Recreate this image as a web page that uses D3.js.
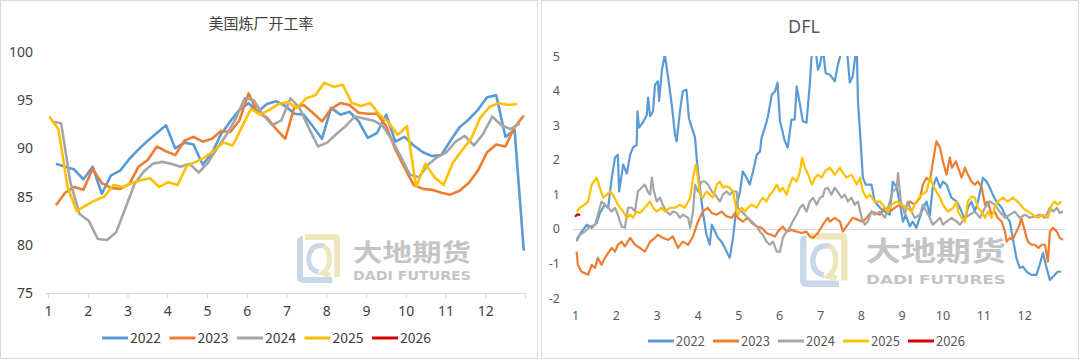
<!DOCTYPE html>
<html><head><meta charset="utf-8">
<script src="https://cdn.jsdelivr.net/npm/d3@7"></script>
<style>
body{margin:0;background:#fff;}
svg{display:block;font-family:"Noto Sans CJK SC","Noto Sans",sans-serif;}
</style>
</head><body>
<svg id="c" width="1080" height="360"></svg>
<script>
// ---------- shared ----------
const years = ["2022","2023","2024","2025","2026"];
const colors = ["#5b9bd5","#ed7d31","#a5a5a5","#ffc000","#d40000"];
const monthLabels = [1,2,3,4,5,6,7,8,9,10,11,12];

// ---------- left: 美国炼厂开工率 (weekly, %) ----------
const utilTitle = "美国炼厂开工率";
const utilTicks = [75,80,85,90,95,100];
const util2022 = [88.4,88.1,87.8,86.8,88.1,85.3,87.2,87.7,88.9,89.9,90.8,91.6,92.4,90.0,90.6,90.4,88.3,89.5,91.5,92.8,94.0,94.7,93.8,94.6,94.9,94.4,93.6,93.5,92.3,91.0,94.2,93.5,93.8,92.8,91.1,91.6,93.5,90.7,91.2,90.3,89.6,89.2,89.3,90.8,92.2,93.0,94.0,95.3,95.5,91.2,91.9,79.4];
const util2023 = [84.1,85.4,86.0,85.7,87.9,86.4,85.9,85.8,86.3,88.1,88.8,90.2,89.7,89.3,90.8,91.2,90.7,91.0,91.8,91.7,92.9,95.7,93.7,93.2,92.0,91.0,94.3,94.5,93.7,92.8,94.1,94.7,94.5,93.7,93.6,93.6,92.3,89.9,88.0,86.2,85.8,85.7,85.4,85.2,85.6,86.4,87.7,89.6,90.4,90.2,92.2,93.4];
const util2024 = [92.8,92.6,86.5,83.2,82.5,80.6,80.5,81.3,83.8,86.3,87.6,88.4,88.6,88.4,88.1,88.4,87.5,88.5,90.0,91.4,93.0,95.2,95.0,93.5,92.4,92.9,95.2,94.2,92.1,90.2,90.6,91.5,92.3,93.3,93.1,92.9,92.4,91.0,89.2,87.3,87.0,88.3,89.1,89.6,90.7,91.3,90.3,91.5,93.3,92.4,92.0,92.6];
const util2025 = [93.3,92.0,86.0,83.5,84.1,84.6,85.0,86.2,86.0,86.4,86.7,86.9,86.0,86.5,86.2,88.2,88.6,89.1,89.8,90.6,90.3,92.2,94.1,93.5,94.0,94.6,94.8,94.2,95.2,95.5,96.8,96.4,96.6,94.7,94.4,94.7,93.5,92.7,91.4,92.3,86.0,88.4,87.0,86.2,88.5,89.8,91.0,93.2,94.3,94.7,94.5,94.6];
const util2026 = [];
const utilStartMonth = [1.2,1.2,1.1,1.03,1.0]; // month position of first weekly report

// ---------- right: DFL (daily) [month position, value] ----------
const dflTitle = "DFL";
const dflTicks = [-2,-1,0,1,2,3,4,5];
const dfl2022 = [[1.04,-0.32],[1.16,-0.08],[1.29,0.12],[1.41,0.03],[1.53,0.17],[1.61,0.46],[1.73,0.70],[1.81,0.60],[1.90,1.47],[1.98,2.06],[2.05,2.14],[2.08,1.08],[2.18,1.86],[2.27,1.60],[2.35,2.14],[2.42,2.35],[2.51,2.43],[2.53,3.40],[2.57,2.93],[2.66,3.07],[2.76,3.30],[2.79,3.80],[2.84,3.26],[2.91,3.40],[2.96,4.17],[3.03,4.27],[3.06,3.70],[3.13,4.60],[3.20,5.04],[3.28,4.38],[3.37,3.59],[3.45,2.72],[3.49,2.53],[3.57,3.40],[3.64,3.98],[3.73,4.03],[3.79,3.20],[3.86,2.93],[3.94,2.64],[3.99,1.90],[4.06,1.19],[4.13,0.49],[4.22,-0.17],[4.30,-0.46],[4.35,0.12],[4.43,-0.08],[4.50,-0.26],[4.59,-0.37],[4.67,-0.55],[4.75,-0.75],[4.79,-0.84],[4.87,-0.26],[4.96,0.70],[5.04,1.08],[5.11,1.66],[5.20,1.48],[5.28,1.28],[5.36,1.66],[5.45,2.14],[5.53,2.24],[5.57,2.64],[5.65,2.93],[5.72,3.22],[5.82,3.88],[5.90,3.98],[5.96,4.23],[6.02,3.11],[6.14,2.53],[6.21,2.35],[6.30,3.16],[6.38,3.16],[6.43,4.12],[6.51,3.59],[6.58,3.11],[6.67,3.07],[6.75,4.17],[6.79,4.95],[6.88,5.30],[6.95,4.60],[7.00,4.75],[7.07,5.20],[7.14,4.50],[7.24,4.46],[7.36,4.27],[7.44,4.75],[7.56,5.30],[7.65,5.30],[7.73,4.23],[7.80,4.41],[7.90,5.30],[7.93,3.69],[8.00,2.43],[8.05,1.48],[8.12,1.28],[8.26,1.28],[8.34,0.79],[8.47,0.61],[8.59,0.50],[8.71,0.41],[8.78,1.37],[8.88,1.19],[8.96,0.70],[9.03,0.21],[9.10,0.40],[9.20,0.07],[9.27,0.21],[9.36,0.03],[9.49,0.50],[9.61,0.79],[9.69,0.40],[9.76,1.19],[9.85,1.48],[9.94,1.19],[10.01,1.37],[10.10,1.28],[10.22,0.90],[10.35,0.79],[10.47,0.50],[10.55,0.26],[10.62,0.61],[10.71,0.79],[10.79,0.50],[10.87,0.79],[10.99,1.48],[11.08,1.37],[11.16,1.19],[11.23,0.99],[11.32,0.79],[11.45,0.61],[11.53,0.41],[11.65,0.21],[11.72,-0.26],[11.81,-0.84],[11.89,-1.13],[11.97,-1.09],[12.06,-1.24],[12.18,-1.33],[12.30,-1.33],[12.38,-1.04],[12.46,-0.70],[12.55,-1.13],[12.63,-1.48],[12.75,-1.33],[12.82,-1.24],[12.91,-1.24]];
const dfl2023 = [[1.04,-0.66],[1.07,-1.04],[1.16,-1.24],[1.32,-1.33],[1.41,-1.04],[1.49,-1.13],[1.56,-0.84],[1.65,-1.04],[1.73,-0.84],[1.90,-0.55],[1.98,-0.66],[2.05,-0.46],[2.14,-0.37],[2.22,-0.51],[2.35,-0.26],[2.47,-0.46],[2.59,-0.55],[2.71,-0.66],[2.84,-0.37],[2.96,-0.26],[3.03,-0.17],[3.15,-0.26],[3.28,-0.32],[3.40,-0.22],[3.52,-0.55],[3.64,-0.37],[3.77,-0.46],[3.89,-0.22],[4.01,0.20],[4.13,0.50],[4.25,0.61],[4.35,0.46],[4.47,0.41],[4.59,0.50],[4.71,0.36],[4.84,0.32],[4.92,0.46],[4.99,0.32],[5.11,0.21],[5.23,0.32],[5.33,0.17],[5.45,0.07],[5.57,0.03],[5.69,-0.12],[5.90,-0.22],[5.97,-0.08],[6.09,0.07],[6.18,-0.08],[6.30,-0.03],[6.43,-0.08],[6.55,-0.12],[6.67,-0.08],[6.75,-0.22],[6.83,-0.26],[6.95,-0.12],[7.07,0.12],[7.19,0.32],[7.24,0.21],[7.36,0.32],[7.49,0.21],[7.56,-0.08],[7.68,0.12],[7.80,0.32],[7.93,0.26],[8.05,0.21],[8.17,0.36],[8.26,0.50],[8.47,0.41],[8.59,0.61],[8.71,0.50],[8.83,0.61],[8.96,0.70],[9.08,0.61],[9.20,0.79],[9.32,0.70],[9.45,0.90],[9.52,1.28],[9.61,1.48],[9.69,1.37],[9.76,1.90],[9.85,2.53],[9.94,2.35],[10.01,1.95],[10.10,1.57],[10.18,2.06],[10.23,1.77],[10.33,1.95],[10.38,1.77],[10.47,1.48],[10.55,1.77],[10.62,1.57],[10.71,1.37],[10.79,1.28],[10.87,1.37],[10.96,1.19],[11.04,0.70],[11.11,0.79],[11.20,0.41],[11.28,0.50],[11.35,0.32],[11.45,0.21],[11.53,-0.08],[11.57,-0.37],[11.65,-0.26],[11.72,-0.32],[11.81,-0.08],[11.89,0.12],[11.93,0.32],[12.02,-0.08],[12.09,-0.37],[12.18,-0.46],[12.26,-0.46],[12.35,-0.55],[12.43,-0.46],[12.51,-0.46],[12.58,-0.95],[12.63,-0.08],[12.71,0.03],[12.80,-0.08],[12.87,-0.26],[12.95,-0.32]];
const dfl2024 = [[1.04,-0.37],[1.12,-0.17],[1.24,-0.08],[1.37,0.07],[1.49,0.12],[1.56,0.41],[1.65,0.79],[1.73,0.70],[1.81,0.61],[1.90,0.50],[1.98,0.61],[2.05,0.41],[2.14,0.07],[2.22,0.03],[2.30,0.61],[2.39,0.61],[2.47,0.50],[2.54,1.08],[2.63,1.19],[2.71,1.28],[2.78,1.08],[2.84,0.99],[2.88,1.48],[2.93,1.10],[3.00,0.79],[3.08,0.90],[3.15,0.70],[3.24,0.50],[3.33,0.41],[3.40,0.50],[3.49,0.46],[3.57,0.32],[3.64,0.41],[3.77,0.32],[3.82,0.03],[3.89,0.50],[3.94,1.28],[4.01,1.08],[4.10,1.37],[4.18,1.37],[4.26,1.28],[4.35,1.08],[4.43,0.99],[4.55,0.79],[4.62,0.99],[4.71,1.08],[4.79,0.99],[4.87,1.08],[4.96,1.08],[4.99,0.61],[5.08,0.50],[5.16,0.41],[5.23,0.32],[5.33,0.21],[5.45,0.07],[5.53,-0.08],[5.60,-0.17],[5.69,-0.37],[5.77,-0.46],[5.85,-0.37],[5.94,-0.66],[6.02,-0.66],[6.09,-0.26],[6.18,-0.08],[6.26,0.03],[6.33,0.21],[6.43,0.41],[6.51,0.61],[6.58,0.70],[6.67,0.50],[6.75,0.79],[6.83,0.90],[6.92,0.70],[7.00,0.90],[7.07,0.94],[7.12,1.15],[7.19,1.19],[7.28,0.99],[7.36,1.19],[7.53,0.90],[7.61,0.99],[7.68,0.79],[7.77,0.90],[7.85,0.70],[7.93,0.79],[8.02,0.32],[8.10,0.12],[8.17,0.21],[8.26,0.50],[8.34,0.41],[8.47,0.50],[8.59,0.32],[8.71,0.79],[8.78,1.08],[8.88,1.19],[8.91,1.62],[8.98,0.79],[9.08,0.41],[9.15,0.79],[9.24,0.50],[9.32,0.32],[9.45,0.41],[9.52,0.70],[9.61,0.50],[9.69,0.32],[9.76,0.12],[9.85,0.21],[9.94,0.32],[10.01,0.12],[10.10,0.21],[10.22,0.32],[10.35,0.21],[10.43,0.12],[10.55,0.32],[10.67,0.41],[10.79,0.50],[10.92,0.32],[11.04,0.61],[11.16,0.79],[11.28,0.70],[11.40,0.50],[11.53,0.32],[11.65,0.41],[11.77,0.50],[11.89,0.32],[12.02,0.41],[12.14,0.32],[12.26,0.36],[12.38,0.41],[12.51,0.32],[12.63,0.61],[12.71,0.50],[12.80,0.61],[12.87,0.46],[12.95,0.50]];
const dfl2025 = [[1.04,0.50],[1.12,0.61],[1.24,0.70],[1.32,0.79],[1.41,1.28],[1.53,1.48],[1.61,1.19],[1.69,0.90],[1.78,0.99],[1.86,1.08],[1.93,0.99],[2.05,0.70],[2.18,0.50],[2.27,0.32],[2.35,0.41],[2.42,0.32],[2.51,0.50],[2.59,0.46],[2.71,0.61],[2.84,0.79],[2.91,0.61],[3.00,0.50],[3.12,0.61],[3.20,0.50],[3.33,0.61],[3.45,0.61],[3.57,0.70],[3.69,0.61],[3.82,0.90],[3.89,1.48],[3.96,1.86],[4.01,1.48],[4.06,0.99],[4.13,0.90],[4.22,1.08],[4.30,0.99],[4.38,0.90],[4.47,1.28],[4.55,1.37],[4.62,1.19],[4.71,1.23],[4.79,1.19],[4.87,1.08],[4.96,0.50],[4.99,0.41],[5.08,0.61],[5.16,0.50],[5.23,0.61],[5.33,0.70],[5.45,0.61],[5.53,0.79],[5.60,0.90],[5.69,0.79],[5.77,0.99],[5.85,1.08],[5.94,1.28],[6.02,1.08],[6.09,1.19],[6.18,0.99],[6.26,1.28],[6.33,1.48],[6.43,1.37],[6.51,1.66],[6.56,2.06],[6.63,1.77],[6.71,1.57],[6.80,1.28],[6.88,1.48],[6.95,1.57],[7.04,1.48],[7.12,1.66],[7.24,1.77],[7.36,1.57],[7.49,1.77],[7.56,1.62],[7.65,1.48],[7.77,1.57],[7.90,1.28],[7.98,1.48],[8.05,1.08],[8.14,0.90],[8.22,0.99],[8.34,0.79],[8.47,0.79],[8.59,0.61],[8.66,0.50],[8.75,0.70],[8.88,0.79],[9.00,0.70],[9.12,0.61],[9.24,0.50],[9.36,0.79],[9.49,0.99],[9.61,1.08],[9.69,1.48],[9.76,1.28],[9.85,1.08],[9.94,0.90],[10.01,0.70],[10.13,0.50],[10.26,0.61],[10.35,0.79],[10.38,0.50],[10.47,0.32],[10.55,0.21],[10.62,0.79],[10.71,0.94],[10.79,0.90],[10.87,0.61],[10.96,0.50],[11.04,0.32],[11.11,0.50],[11.20,0.32],[11.28,0.61],[11.35,0.79],[11.48,0.90],[11.60,0.79],[11.72,0.90],[11.84,0.79],[11.97,0.61],[12.09,0.50],[12.21,0.41],[12.33,0.32],[12.46,0.41],[12.58,0.32],[12.68,0.70],[12.75,0.79],[12.82,0.70],[12.91,0.79]];
const dfl2026 = [[1.0,0.35],[1.06,0.42],[1.13,0.40]];

// ---------- drawing ----------
const svg = d3.select("#c");
svg.append("rect").attr("x",0.5).attr("y",0.5).attr("width",537).attr("height",358).attr("fill","#fff").attr("stroke","#d9d9d9");
svg.append("rect").attr("x",541.5).attr("y",0.5).attr("width",537).attr("height",358).attr("fill","#fff").attr("stroke","#d9d9d9");

function watermark(x, y, s, textX, textW, cnY, cnSize, enY, enSize) {
  const g = svg.append("g").attr("class","wm");
  const lg = g.append("g").attr("transform",`translate(${x},${y}) scale(${s})`);
  const blue = "#c8d8ea", yel = "#efe7bb";
  lg.append("path").attr("d","M0,8 Q0,2 6,2 L6,44 L36,44 L36,50 L6,50 Q0,50 0,44 Z").attr("fill",blue);
  lg.append("path").attr("d","M8,0 L38,0 Q44,0 44,6 L44,44 L38,44 L38,6 L8,6 Z").attr("fill",yel);
  lg.append("path").attr("d","M28,12 Q14,10 12,24 Q11,36 22,39").attr("fill","none").attr("stroke",blue).attr("stroke-width",5);
  lg.append("path").attr("d","M27,12 Q34,16 33,28 Q32,36 26,40 L34,42").attr("fill","none").attr("stroke",yel).attr("stroke-width",5);
  g.append("text").attr("x",textX).attr("y",cnY).attr("font-size",cnSize).attr("font-weight",700)
    .attr("fill","#c4c4c4").attr("textLength",textW).attr("lengthAdjust","spacingAndGlyphs").text("大地期货");
  g.append("text").attr("x",textX).attr("y",enY).attr("font-size",enSize).attr("font-weight",700)
    .attr("font-family","'DejaVu Sans',sans-serif")
    .attr("fill","#c4c4c4").attr("textLength",textW).attr("lengthAdjust","spacingAndGlyphs").text("DADI FUTURES");
}

function legend(x0, step, y, fs, col) {
  const g = svg.append("g");
  years.forEach((yr, i) => {
    const x = x0 + i*step;
    g.append("line").attr("x1",x).attr("x2",x+26).attr("y1",y).attr("y2",y)
      .attr("stroke",colors[i]).attr("stroke-width",3);
    g.append("text").attr("x",x+28).attr("y",y).attr("dy","0.36em").attr("font-size",fs)
      .attr("fill",col).text(yr);
  });
}

// ===== Left chart =====
(function(){
  const x = d3.scaleLinear().domain([1,13]).range([48,525]);
  const y = d3.scaleLinear().domain([75,100]).range([293,52]);
  const txt = "#404040";
  svg.append("text").attr("x",261).attr("y",29).attr("text-anchor","middle").attr("font-size",15)
    .attr("fill",txt).text(utilTitle);

  watermark(297, 234, 0.98, 353, 118, 261, 24, 280, 12);

  // y labels
  const ya = svg.append("g").attr("transform","translate(33,0)")
    .call(d3.axisLeft(y).tickValues(utilTicks).tickSize(0).tickPadding(0).tickFormat(d => String(d)));
  ya.select(".domain").remove();
  ya.selectAll("text").attr("font-size",14).attr("fill",txt).attr("font-family","'Noto Sans',sans-serif");

  // x axis
  const xa = svg.append("g").attr("transform","translate(0,293)")
    .call(d3.axisBottom(x).tickValues(d3.range(1,14)).tickSize(5).tickSizeOuter(0).tickPadding(8)
      .tickFormat(d => d <= 12 ? String(d) : ""));
  xa.select(".domain").attr("stroke","#d9d9d9").attr("d","M46,0.5H525");
  xa.selectAll(".tick line").attr("stroke","#d9d9d9");
  xa.selectAll("text").attr("font-size",14).attr("fill",txt).attr("font-family","'Noto Sans',sans-serif");

  const series = [util2022, util2023, util2024, util2025, util2026];
  const line = d3.line().x(d => x(d[0])).y(d => y(d[1]));
  series.forEach((arr, k) => {
    const pts = arr.map((v,i) => [utilStartMonth[k] + i*12/52, v]);
    svg.append("path").datum(pts).attr("d",line).attr("fill","none")
      .attr("stroke",colors[k]).attr("stroke-width",2.6).attr("stroke-linejoin","round");
  });
  legend(102, 67.5, 338, 14, txt);
})();

// ===== Right chart =====
(function(){
  const x = d3.scaleLinear().domain([1,13]).range([575,1065]);
  const y = d3.scaleLinear().domain([-2,5]).range([298,56]);
  const txt = "#595959";
  svg.append("text").attr("x",804).attr("y",33).attr("text-anchor","middle").attr("font-size",18)
    .attr("fill",txt).attr("font-family","'Noto Sans',sans-serif").text(dflTitle);

  watermark(800, 233, 1.08, 866, 140, 261, 27, 284, 13);

  const ya = svg.append("g").attr("transform","translate(560,0)")
    .call(d3.axisLeft(y).tickValues(dflTicks).tickSize(0).tickPadding(0).tickFormat(d => String(d)));
  ya.select(".domain").remove();
  ya.selectAll("text").attr("font-size",12.5).attr("fill",txt).attr("font-family","'Noto Sans',sans-serif");

  // zero line
  svg.append("line").attr("x1",x(1)-2).attr("x2",x(13)).attr("y1",Math.round(y(0))+0.5).attr("y2",Math.round(y(0))+0.5)
    .attr("stroke","#d9d9d9").attr("stroke-width",1);

  // month labels at bottom
  const xa = svg.append("g").attr("transform","translate(0,311)")
    .call(d3.axisBottom(x).tickValues(monthLabels).tickSize(0).tickPadding(0).tickFormat(d => String(d)));
  xa.select(".domain").remove();
  xa.selectAll("text").attr("font-size",12.5).attr("fill",txt).attr("font-family","'Noto Sans',sans-serif");

  svg.append("clipPath").attr("id","clipR").append("rect")
    .attr("x",570).attr("y",y(5)).attr("width",500).attr("height",y(-2)-y(5));
  const series = [dfl2022, dfl2023, dfl2024, dfl2025, dfl2026];
  const line = d3.line().x(d => x(d[0])).y(d => y(d[1]));
  const g = svg.append("g").attr("clip-path","url(#clipR)");
  series.forEach((arr, k) => {
    g.append("path").datum(arr).attr("d",line).attr("fill","none")
      .attr("stroke",colors[k]).attr("stroke-width",2.2).attr("stroke-linejoin","round");
  });
  legend(648, 65, 341, 13, txt);
})();
</script>
</body></html>
